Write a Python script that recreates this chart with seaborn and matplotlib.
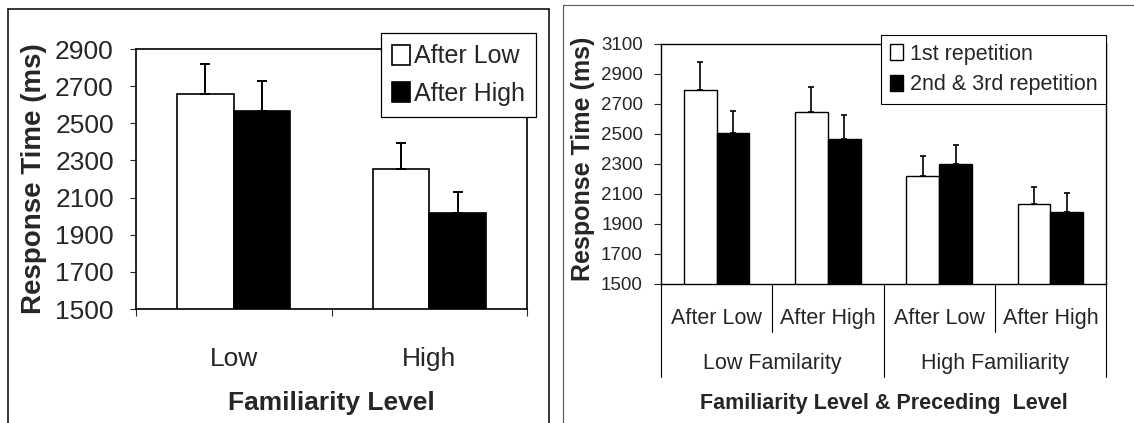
import matplotlib
matplotlib.use("Agg")
import matplotlib.pyplot as plt
import pandas as pd
import seaborn as sns
from matplotlib.lines import Line2D

# ---------------- data ----------------
fam_levels = ["Low", "High"]
prec_levels = ["After Low", "After High"]
left_after_low = [2658, 2255]
left_after_low_err = [161, 137]
left_after_high = [2568, 2015]
left_after_high_err = [160, 113]
left_yticks = [1500, 1700, 1900, 2100, 2300, 2500, 2700, 2900]

right_groups = ["Low Familarity", "High Familiarity"]
right_sub = ["After Low", "After High", "After Low", "After High"]
rep_levels = ["1st repetition", "2nd & 3rd repetition"]
first_rep = [2794, 2644, 2222, 2035]
first_rep_err = [184, 166, 133, 114]
second_rep = [2504, 2469, 2298, 1982]
second_rep_err = [146, 160, 131, 123]
right_yticks = [1500, 1700, 1900, 2100, 2300, 2500, 2700, 2900, 3100]

# ---------------- style ----------------
sns.set_style("white")
plt.rcParams['font.family'] = ['Liberation Sans', 'DejaVu Sans']

W, H = 1134, 423
fig = plt.figure(figsize=(W / 100, H / 100), dpi=100)


def fx(px):
    return px / W


def fy(py):
    return 1 - py / H


def axes_rect(x0, y0, x1, y1):
    return [fx(x0), fy(y1), fx(x1) - fx(x0), fy(y0) - fy(y1)]


def add_errorbars(ax, containers, errs, capsize, lw):
    for cont, err in zip(containers, errs):
        for bar, e in zip(cont, err):
            xc = bar.get_x() + bar.get_width() / 2
            h = bar.get_height()
            ax.errorbar(xc, h, yerr=[[0], [e]], fmt='none', ecolor='black',
                        elinewidth=lw, capsize=capsize, capthick=lw, zorder=1)


# ---------------- left panel ----------------
axL = fig.add_axes(axes_rect(136, 49, 527, 309))
dfL = pd.DataFrame({
    "fam": fam_levels * 2,
    "prec": [prec_levels[0]] * 2 + [prec_levels[1]] * 2,
    "rt": left_after_low + left_after_high,
})
sns.barplot(data=dfL, x="fam", y="rt", hue="prec", order=fam_levels,
            hue_order=prec_levels, palette=["white", "black"], saturation=1,
            edgecolor="black", linewidth=1.2, width=0.58, errorbar=None,
            legend=False, ax=axL)
contL = list(axL.containers)[:2]
add_errorbars(axL, contL, [left_after_low_err, left_after_high_err], 3.6, 1.4)
axL.set_ylim(left_yticks[0], left_yticks[-1])
axL.set_yticks(left_yticks)
axL.set_xlim(-0.5, len(fam_levels) - 0.5)
axL.set_xticks(range(len(fam_levels)))
axL.set_xticklabels(fam_levels)
axL.set_xticks([i - 0.5 for i in range(len(fam_levels) + 1)], minor=True)
axL.tick_params(axis='x', which='major', length=0, pad=27, labelsize=19)
axL.tick_params(axis='x', which='minor', length=5, width=0.8, direction='out', bottom=True)
axL.tick_params(axis='y', length=4, width=0.8, direction='out', left=True, pad=12, labelsize=19)
for s in axL.spines.values():
    s.set_visible(True)
    s.set_color('black')
    s.set_linewidth(1.2)
axL.set_ylabel("Response Time (ms)", fontsize=20, fontweight='bold')
axL.yaxis.label.set_va('center')
axL.yaxis.set_label_coords(-0.261, 0.5)
axL.set_xlabel("Familiarity Level", fontsize=19, fontweight='bold')
axL.xaxis.label.set_va('center')
axL.xaxis.set_label_coords(0.5, (309 - 403) / 260)
axL.legend([contL[0][0], contL[1][0]], prec_levels, loc='upper left',
           bbox_to_anchor=(fx(381), fy(33)), bbox_transform=fig.transFigure,
           borderaxespad=0, fontsize=18, frameon=True, fancybox=False,
           edgecolor='black', framealpha=1, handlelength=0.7, handleheight=0.85,
           handletextpad=0.15, labelspacing=0.55, borderpad=0.45)
axL.get_legend().get_frame().set_linewidth(0.9)

# ---------------- right panel ----------------
axR = fig.add_axes(axes_rect(661, 44, 1106, 284))
cond_keys = [f"{right_groups[i // 2]}|{right_sub[i]}" for i in range(len(right_sub))]
dfR = pd.DataFrame({
    "cond": cond_keys * 2,
    "rep": [rep_levels[0]] * 4 + [rep_levels[1]] * 4,
    "rt": first_rep + second_rep,
})
sns.barplot(data=dfR, x="cond", y="rt", hue="rep", order=cond_keys,
            hue_order=rep_levels, palette=["white", "black"], saturation=1,
            edgecolor="black", linewidth=1.0, width=0.59, errorbar=None,
            legend=False, ax=axR)
contR = list(axR.containers)[:2]
add_errorbars(axR, contR, [first_rep_err, second_rep_err], 2.4, 1.2)
axR.set_ylim(right_yticks[0], right_yticks[-1])
axR.set_yticks(right_yticks)
axR.set_xlim(-0.5, len(cond_keys) - 0.5)
axR.set_xticks(range(len(cond_keys)))
axR.set_xticklabels(right_sub)
axR.tick_params(axis='x', which='major', length=0, pad=17, labelsize=15.5)
axR.tick_params(axis='y', length=5, width=0.8, direction='out', left=True, pad=8, labelsize=13.5)
for s in axR.spines.values():
    s.set_visible(True)
    s.set_color('black')
    s.set_linewidth(1.0)
axR.set_ylabel("Response Time (ms)", fontsize=18, fontweight='bold')
axR.yaxis.label.set_va('center')
axR.yaxis.set_label_coords(-0.175, 0.52)
axR.set_xlabel("Familiarity Level & Preceding  Level", fontsize=15.5, fontweight='bold')
axR.xaxis.label.set_va('center')
axR.xaxis.set_label_coords(0.5, (284 - 403) / 240)

# multi-level category separators
trans = axR.get_xaxis_transform()
inner_low = (284 - 332) / 240
outer_low = (284 - 377) / 240
n_per_group = len(cond_keys) // len(right_groups)
for i in range(len(cond_keys) + 1):
    low = outer_low if i % n_per_group == 0 else inner_low
    axR.add_line(Line2D([i - 0.5, i - 0.5], [0, low], transform=trans,
                        color='black', lw=0.8, clip_on=False))
for g, name in enumerate(right_groups):
    xc = g * n_per_group + (n_per_group - 1) / 2
    axR.text(xc, (284 - 364) / 240, name, transform=trans, ha='center',
             va='center', fontsize=15.5)

axR.legend([contR[0][0], contR[1][0]], rep_levels, loc='upper left',
           bbox_to_anchor=(fx(881), fy(35)), bbox_transform=fig.transFigure,
           borderaxespad=0, fontsize=15.5, frameon=True, fancybox=False,
           edgecolor='black', framealpha=1, handlelength=0.6, handleheight=0.75,
           handletextpad=0.35, labelspacing=0.45, borderpad=0.4)
axR.get_legend().get_frame().set_linewidth(0.8)

# ---------------- panel frames ----------------
def frame_line(x0, y0, x1, y1, **kw):
    fig.add_artist(Line2D([fx(x0), fx(x1)], [fy(y0), fy(y1)],
                          transform=fig.transFigure, **kw))

frame_line(8, 9, 549, 9, color='black', lw=1.1)
frame_line(8, 9, 8, 423, color='black', lw=1.1)
frame_line(549, 9, 549, 423, color='black', lw=1.1)
frame_line(563, 5, 1134, 5, color='0.35', lw=0.8)
frame_line(563, 5, 563, 423, color='0.35', lw=0.8)

fig.savefig("out.png", dpi=100)
